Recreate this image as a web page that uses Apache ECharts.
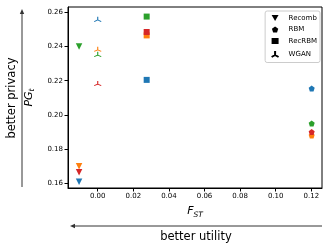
<!DOCTYPE html>
<html><head><meta charset="utf-8">
<script src="https://cdn.jsdelivr.net/npm/echarts@6/dist/echarts.min.js"></script>
<style>html,body{margin:0;padding:0;background:#fff}#c{width:332px;height:249px}</style>
</head><body><div id="c"></div>
<script>
// colors: blue, orange, green, red
const colors = ['#1f77b4', '#ff7f0e', '#2ca02c', '#d62728'];
const recombX = [-0.0105, -0.0105, -0.0105, -0.0105];
const recombY = [0.161, 0.170, 0.240, 0.1665];
const rbmX = [0.1202, 0.1202, 0.1202, 0.1202];
const rbmY = [0.2155, 0.188, 0.195, 0.190];
const recrbmX = [0.0275, 0.0275, 0.0275, 0.0275];
const recrbmY = [0.2205, 0.2465, 0.2575, 0.2485];
const wganX = [0.0, 0.0, 0.0, 0.0];
const wganY = [0.256, 0.2385, 0.2355, 0.2185];
const xTicks = [0.00, 0.02, 0.04, 0.06, 0.08, 0.10, 0.12];
const yTicks = [0.16, 0.18, 0.20, 0.22, 0.24, 0.26];

const chart = echarts.init(document.getElementById('c'));
function pts(xs, ys, stroke) {
  return xs.map((x, i) => ({
    value: [x, ys[i]],
    itemStyle: stroke ? {color: 'none', borderColor: colors[i], opacity: 1} : {color: colors[i], opacity: 1}
  }));
}
const pentagon = 'path://M5,0L10,3.63L8.09,9.51L1.91,9.51L0,3.63Z';
const triDown = 'path://M0,0L10,0L5,8.66Z';
const tri = 'path://M5,5L5,0M5,5L0.67,7.5M5,5L9.33,7.5';
const font = 'DejaVu Sans';
chart.setOption({
  animation: false,
  grid: {left: 68, top: 7, right: 10, bottom: 61, show: true, borderColor: '#000', borderWidth: 1},
  xAxis: {
    type: 'value', min: -0.0167, max: 0.126,
    name: '{i|F}{s|ST}', nameLocation: 'middle', nameGap: 16,
    nameTextStyle: {rich: {
      i: {fontFamily: font, fontStyle: 'italic', fontSize: 11, color: '#000'},
      s: {fontFamily: font, fontStyle: 'italic', fontSize: 7.5, color: '#000', padding: [7, 0, 0, 0]}
    }},
    axisLine: {show: true, onZero: false, lineStyle: {color: '#000', width: 1}},
    axisTick: {show: true, inside: false, length: 3.5, customValues: xTicks, lineStyle: {color: '#000'}},
    axisLabel: {customValues: xTicks, formatter: v => v.toFixed(2), fontFamily: font, fontSize: 7, color: '#000', margin: 5},
    splitLine: {show: false}
  },
  yAxis: {
    type: 'value', min: 0.1573, max: 0.2631,
    name: '{i|PG}{s|t}', nameLocation: 'middle', nameGap: 27, nameRotate: 90,
    nameTextStyle: {rich: {
      i: {fontFamily: font, fontStyle: 'italic', fontSize: 11, color: '#000'},
      s: {fontFamily: font, fontStyle: 'italic', fontSize: 7.5, color: '#000', padding: [7, 0, 0, 0]}
    }},
    axisLine: {show: true, onZero: false, lineStyle: {color: '#000', width: 1}},
    axisTick: {show: true, inside: false, length: 3.5, customValues: yTicks, lineStyle: {color: '#000'}},
    axisLabel: {customValues: yTicks, formatter: v => v.toFixed(2), fontFamily: font, fontSize: 7, color: '#000', margin: 5},
    splitLine: {show: false}
  },
  legend: {
    orient: 'vertical', right: 12, top: 11,
    data: ['Recomb', 'RBM', 'RecRBM', 'WGAN'],
    itemWidth: 7, itemHeight: 6, itemGap: 3.5,
    padding: [3, 3, 3, 4],
    borderColor: '#ccc', borderWidth: 1, borderRadius: 2,
    textStyle: {fontFamily: font, fontSize: 7, lineHeight: 8, color: '#000', padding: [0, 0, 0, 5]}
  },
  series: [
    {name: 'Recomb', type: 'scatter', symbol: triDown, symbolSize: 6.5,
     itemStyle: {color: '#000', opacity: 1}, data: pts(recombX, recombY, false)},
    {name: 'RBM', type: 'scatter', symbol: pentagon, symbolSize: 6,
     itemStyle: {color: '#000', opacity: 1}, data: pts(rbmX, rbmY, false)},
    {name: 'RecRBM', type: 'scatter', symbol: 'rect', symbolSize: 6,
     itemStyle: {color: '#000', opacity: 1}, data: pts(recrbmX, recrbmY, false)},
    {name: 'WGAN', type: 'scatter', symbol: tri, symbolSize: [7, 5.5], symbolKeepAspect: true,
     itemStyle: {color: 'none', borderColor: '#000', borderWidth: 1, opacity: 1}, data: pts(wganX, wganY, true)}
  ],
  graphic: [
    {type: 'line', shape: {x1: 22, y1: 13, x2: 22, y2: 187}, style: {stroke: '#333', lineWidth: 1}},
    {type: 'polygon', shape: {points: [[22, 9], [19.8, 14], [24.2, 14]]}, style: {fill: '#333'}},
    {type: 'text', x: 12, y: 98, rotation: Math.PI / 2,
     style: {text: 'better privacy', fontFamily: font, fontSize: 11.5, fill: '#000', align: 'center', verticalAlign: 'middle'}},
    {type: 'line', shape: {x1: 74, y1: 226, x2: 322, y2: 226}, style: {stroke: '#333', lineWidth: 1}},
    {type: 'polygon', shape: {points: [[70, 226], [75, 223.8], [75, 228.2]]}, style: {fill: '#333'}},
    {type: 'text', x: 196, y: 237,
     style: {text: 'better utility', fontFamily: font, fontSize: 11.5, fill: '#000', align: 'center', verticalAlign: 'middle'}}
  ]
});
</script></body></html>
